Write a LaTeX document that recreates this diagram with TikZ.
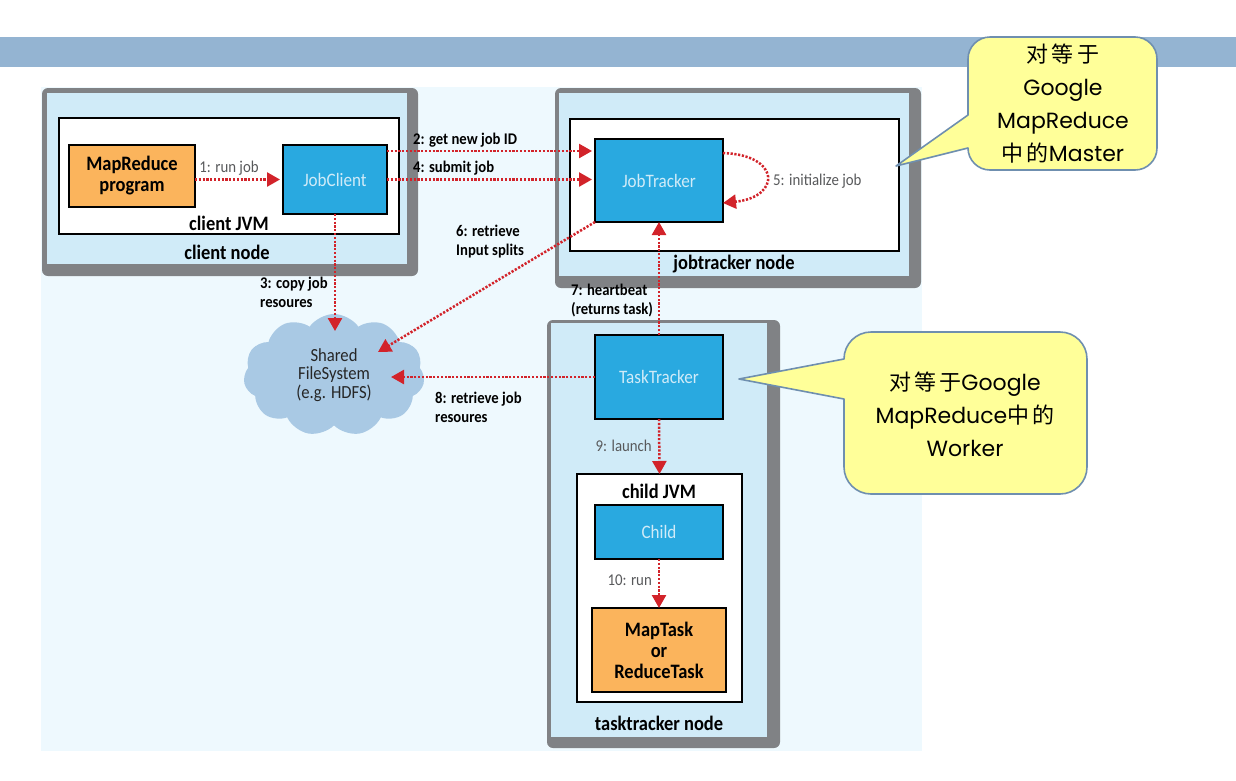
\documentclass[tikz,border=0pt]{standalone}
\usepackage{fontspec}
\setmainfont[FakeStretch=0.9]{Carlito}
\newfontfamily\popfont{Poppins}
\newfontfamily\cjk[LetterSpace=14]{Noto Sans CJK SC}
\usetikzlibrary{arrows.meta, positioning, shapes.symbols}

\definecolor{bandblue}{HTML}{94B4D2}
\definecolor{paleback}{HTML}{EEF9FE}
\definecolor{nodegrey}{HTML}{808285}
\definecolor{nodelight}{HTML}{D0EBF8}
\definecolor{boxblue}{HTML}{29A9E0}
\definecolor{boxorange}{HTML}{FBB45C}
\definecolor{flowred}{HTML}{D2232A}
\definecolor{cloudblue}{HTML}{A9C9E4}
\definecolor{noteyellow}{HTML}{FFFF99}
\definecolor{noteedge}{HTML}{6F8FAF}
\definecolor{labelgrey}{HTML}{58595B}

\begin{document}
\begin{tikzpicture}[
    x=1pt, y=-1pt,
    nodeframe/.style={fill=nodegrey, rounded corners=6pt, inner sep=0pt, outer sep=0pt},
    nodeinner/.style={fill=nodelight, inner sep=0pt, outer sep=0pt},
    jvm/.style={draw=black, fill=white, line width=1.5pt, inner sep=0pt, outer sep=0pt},
    daemon/.style={draw=black, fill=boxblue, line width=1.5pt, inner sep=0pt, outer sep=0pt, minimum width=128pt, text=nodelight, font=\fontsize{19}{22}\selectfont},
    task/.style={draw=black, fill=boxorange, line width=1.5pt, inner sep=0pt, outer sep=0pt, align=center, font=\fontsize{20.5}{21}\selectfont\bfseries},
    title/.style={font=\fontsize{20.5}{21}\selectfont\bfseries},
    flow/.style={-{Triangle[length=13pt,width=14pt]}, flowred, line width=2.5pt, dash pattern=on 2.2pt off 1.6pt},
    graylabel/.style={text=labelgrey, inner sep=0pt, font=\fontsize{16.5}{19}\selectfont},
    heavylabel/.style={inner sep=0pt, align=left, font=\fontsize{16.3}{19}\selectfont\bfseries},
    note/.style={draw=noteedge, fill=noteyellow, line width=1.6pt, line join=round},
    notetext/.style={inner sep=0pt, align=center, font=\fontsize{22}{33}\selectfont\popfont}
]
% slide background
\useasboundingbox (0,0) rectangle (1236,780);
\fill[bandblue] (0,37) rectangle (1236,67);
\fill[paleback] (41,87) rectangle (922,751);

% client node
\node[nodeframe, minimum width=376pt, minimum height=188pt] (clientframe) at (230,182) {};
\node[nodeinner, minimum width=360pt, minimum height=171pt] (clientinner) at (227,178.5) {};
\node[jvm, minimum width=340pt, minimum height=116pt] (clientjvm) at (229,176) {};
\node[task, minimum width=126pt, minimum height=62pt] (mrprogram) at (132,176) {MapReduce\\program};
\node[daemon, minimum width=104pt, minimum height=69pt] (jobclient) at (335,179.5) {JobClient};
\node[title] (clientjvmlabel) at (229,223) {client JVM};
\node[title] (clientnodelabel) at (227,252) {client node};

% jobtracker node
\node[nodeframe, minimum width=366pt, minimum height=200pt] (jtframe) at (738,188) {};
\node[nodeinner, minimum width=350pt, minimum height=183pt] (jtinner) at (734,184.5) {};
\node[jvm, minimum width=329pt, minimum height=132pt] (jtjvm) at (734.5,185) {};
\node[title] (jtnodelabel) at (734,264) {jobtracker node};

% tasktracker node
\node[nodeframe, minimum width=233pt, minimum height=428pt] (ttframe) at (663.5,534) {};
\node[nodeinner, minimum width=216pt, minimum height=414pt] (ttinner) at (659,530) {};
\node[daemon, minimum height=84pt] (tasktracker) at (659,377) {TaskTracker};
\node[jvm, minimum width=165pt, minimum height=228pt] (childjvm) at (659.5,588) {};
\node[daemon, below=86pt of tasktracker, minimum height=54pt] (child) {Child};
\node[task, below=49pt of child, minimum width=134pt, minimum height=84pt] (maptask) {MapTask\\or\\ReduceTask};
\node[daemon, above=113pt of tasktracker, minimum height=83pt] (jobtracker) {JobTracker};
\node[title] (childjvmlabel) at (659,491) {child JVM};
\node[title] (ttnodelabel) at (659,723) {tasktracker node};

% shared filesystem
\node[cloud, cloud puffs=11, cloud puff arc=110, fill=cloudblue, inner sep=0pt, minimum width=181pt, minimum height=122pt, align=center, text=black!85, font=\fontsize{18.5}{18.5}\selectfont] (hdfs) at (334,375) {Shared\\FileSystem\\(e.g. HDFS)};
\coordinate (hdfstop) at (335,331);
\coordinate (hdfsne) at (378,352);
\coordinate (hdfseast) at (391,377);

% flows
\draw[flow, shorten >=3pt] (jobclient.west -| mrprogram.east) -- (jobclient.west);
\draw[flow, shorten >=3pt] ([yshift=-6pt]jobclient.north east) -- ([yshift=-12pt]jobtracker.north west);
\draw[flow, shorten >=3pt] (jobclient.east) -- (jobclient.east -| jobtracker.west);
\draw[flow] (jobclient.south) -- (hdfstop);
\draw[flow] ([yshift=-14pt]jobtracker.north east) .. controls +(58,2) and +(58,-6) .. ([yshift=-64pt]jobtracker.north east);
\draw[flow] (jobtracker.south west) -- (hdfsne);
\draw[flow] (tasktracker.north) -- (jobtracker.south);
\draw[flow] (tasktracker.west) -- (hdfseast);
\draw[flow] (tasktracker.south) -- (childjvm.north);
\draw[flow] (child.south) -- (maptask.north);

% flow labels
\node[graylabel] (runlabel) at (229,168) {1: run job};
\node[heavylabel, anchor=west] (getidlabel) at (413,140) {2: get new job ID};
\node[heavylabel, anchor=west] (submitlabel) at (413,168) {4: submit job};
\node[heavylabel, anchor=west] (copylabel) at (260,292.5) {3: copy job\\resoures};
\node[graylabel, anchor=west] (initlabel) at (773,181) {5: initialize job};
\node[heavylabel, anchor=west] (splitslabel) at (456,241.5) {6: retrieve\\Input splits};
\node[heavylabel, anchor=west] (beatlabel) at (571,300.5) {7: heartbeat\\(returns task)};
\node[heavylabel, anchor=west] (fetchlabel) at (435,407.5) {8: retrieve job\\resoures};
\node[graylabel, anchor=east] (launchlabel) at (652,446) {9: launch};
\node[graylabel, anchor=east] (runtasklabel) at (652,580) {10: run};

% notes
\draw[note, rounded corners=22pt] (968,115) -- (968,37) -- (1157,37) -- (1157,170) -- (968,170) [sharp corners] -- (968,148) -- (896,166) -- cycle;
\node[notetext] (masternote) at (1063,104) {{\cjk 对等于}\\Google\\MapReduce\\{\cjk 中的}Master};
\draw[note, rounded corners=27pt] (844,359) -- (844,332) -- (1087,332) -- (1087,494) -- (844,494) [sharp corners] -- (844,399) -- (739,379) -- cycle;
\node[notetext] (workernote) at (965,414) {{\cjk 对等于}Google\\MapReduce{\cjk 中的}\\Worker};
\end{tikzpicture}
\end{document}
